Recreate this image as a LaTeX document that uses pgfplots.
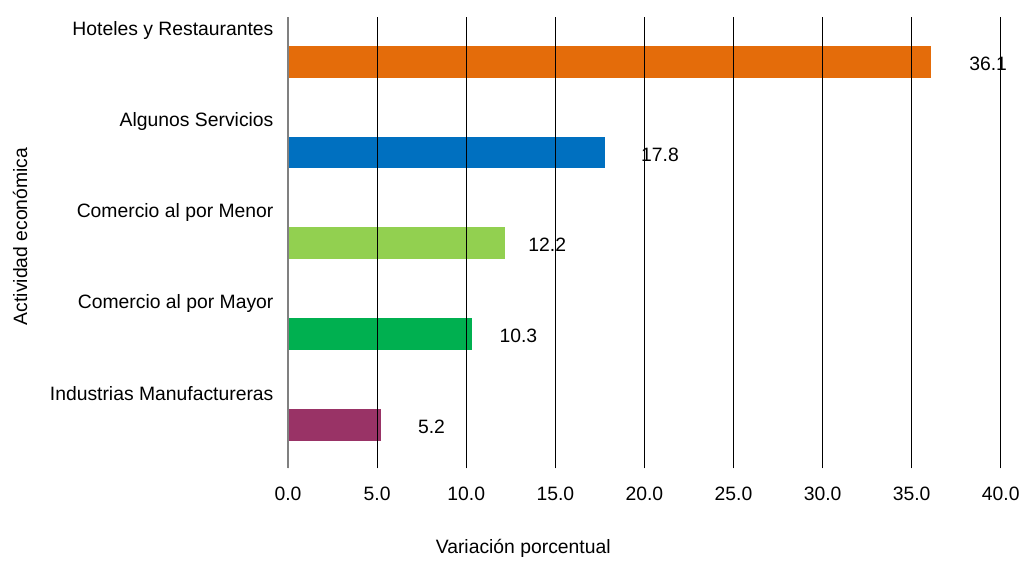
\documentclass[border=0pt]{standalone}
\usepackage{fontspec}
\setmainfont{Liberation Sans}
\usepackage{pgfplots}
\pgfplotsset{compat=1.18}

\definecolor{cHot}{HTML}{E46C0A}
\definecolor{cSer}{HTML}{0070C0}
\definecolor{cMen}{HTML}{92D050}
\definecolor{cMay}{HTML}{00B050}
\definecolor{cInd}{HTML}{993366}

\begin{document}
\fontsize{19.4}{23}\selectfont
\begin{tikzpicture}
\begin{axis}[
    scale only axis,
    width=715pt, height=453pt,
    xbar, bar width=32pt, bar shift=0pt,
    xmin=0, xmax=40,
    ymin=-0.4835, ymax=4.4945,
    xtick={0,5,...,40},
    xticklabel={\pgfmathprintnumber[fixed,fixed zerofill,precision=1]{\tick}},
    /pgf/number format/assume math mode=true,
    ytick={0,1,2,3,4},
    yticklabels={Industrias Manufactureras,Comercio al por Mayor,Comercio al por Menor,Algunos Servicios,Hoteles y Restaurantes},
    y tick label style={anchor=east, xshift=-8pt, yshift=31pt},
    x tick label style={yshift=-12pt},
    major tick length=0pt,
    axis lines*=left,
    x axis line style={draw=none},
    y axis line style={gray, line width=1.4pt},
    xmajorgrids, major grid style={black, line width=0.8pt},
    axis on top,
    clip=false,
    nodes near coords,
    nodes near coords style={anchor=center, yshift=-2pt,
      /pgf/number format/fixed, /pgf/number format/fixed zerofill,
      /pgf/number format/precision=1, /pgf/number format/assume math mode=true},
]
\addplot[fill=cInd, draw=none, nodes near coords style={xshift=51pt}] coordinates {(5.2,0)};
\addplot[fill=cMay, draw=none, nodes near coords style={xshift=47pt}] coordinates {(10.3,1)};
\addplot[fill=cMen, draw=none, nodes near coords style={xshift=42pt}] coordinates {(12.2,2)};
\addplot[fill=cSer, draw=none, nodes near coords style={xshift=55pt}] coordinates {(17.8,3)};
\addplot[fill=cHot, draw=none, nodes near coords style={xshift=57pt}] coordinates {(36.1,4)};
\node at (rel axis cs:0.330,-0.177) {Variación porcentual};
\node[rotate=90] at (rel axis cs:-0.376,0.514) {Actividad económica};
\path (rel axis cs:-0.4042,-0.1898) (rel axis cs:1.0308,1.0375);
\end{axis}
\end{tikzpicture}
\end{document}
